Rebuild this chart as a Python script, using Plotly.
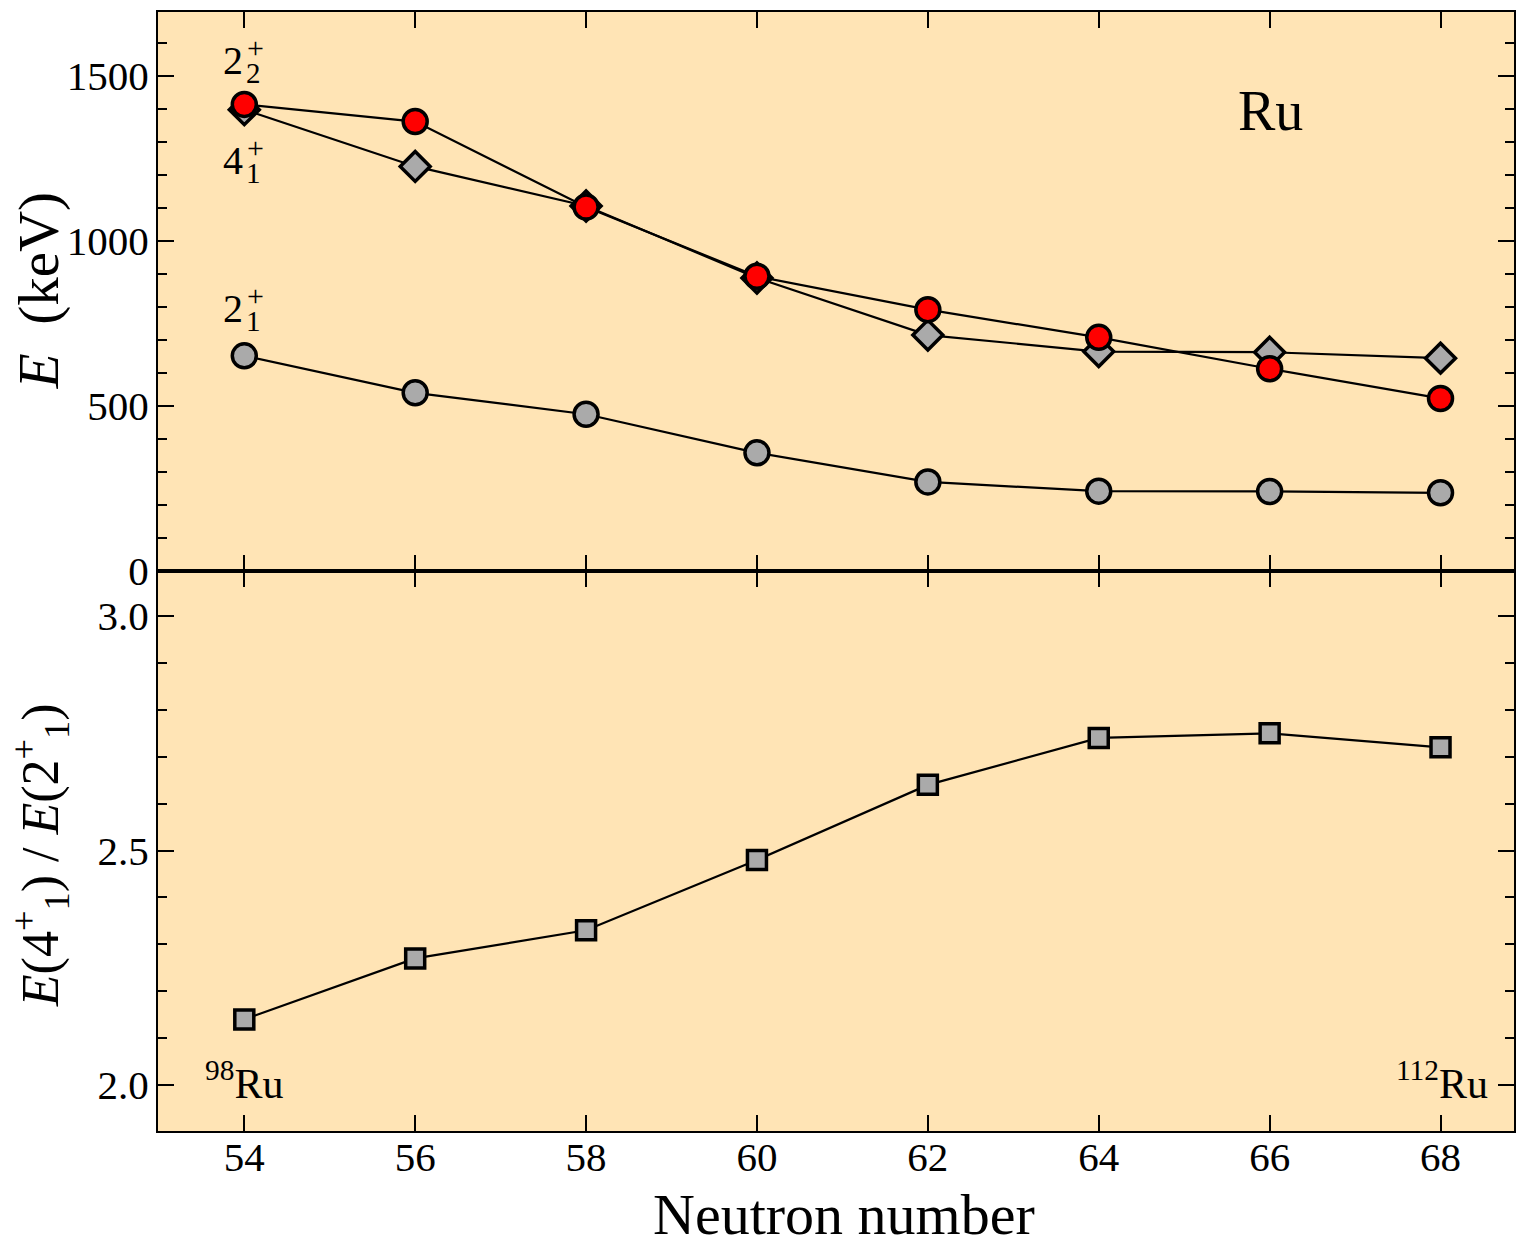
import plotly.graph_objects as go

# ---- data ----
neutron = [54, 56, 58, 60, 62, 64, 66, 68]
e_2plus1 = [652, 540, 475, 358, 270, 242, 241, 237]
e_4plus1 = [1398, 1226, 1106, 888, 715, 665, 663, 645]
e_2plus2 = [1414, 1362, 1103, 893, 792, 708, 613, 523]
ratio_r42 = [2.14, 2.27, 2.33, 2.48, 2.64, 2.74, 2.75, 2.72]

x_ticks = [54, 56, 58, 60, 62, 64, 66, 68]
top_ticks = [0, 500, 1000, 1500]
bot_ticks = [2.0, 2.5, 3.0]
bot_ticklabels = ["2.0", "2.5", "3.0"]

FONT = "Liberation Serif"
BG = "#FFE4B5"
GRAY = "#AAAAAA"

fig = go.Figure()

def add(x, y, symbol, color, size, xa, ya):
    fig.add_trace(go.Scatter(
        x=x, y=y, mode="lines+markers", xaxis=xa, yaxis=ya,
        line=dict(color="black", width=2.2),
        marker=dict(symbol=symbol, size=size, color=color,
                    line=dict(color="black", width=3.5)),
        showlegend=False, cliponaxis=False))

add(neutron, e_2plus1, "circle", GRAY, 24, "x", "y")
add(neutron, e_4plus1, "diamond", GRAY, 23, "x", "y")
add(neutron, e_2plus2, "circle", "red", 24, "x", "y")
add(neutron, ratio_r42, "square", GRAY, 19, "x2", "y2")

split = (1131 - 571) / 1119

common_x = dict(range=[52.99, 68.86], tickvals=x_ticks, ticks="inside",
                ticklen=16, tickwidth=2, tickcolor="black", mirror="ticks",
                showline=True, linecolor="black", linewidth=2,
                showgrid=False, zeroline=False, ticklabelstandoff=-11,
                tickfont=dict(family=FONT, size=41, color="black"))

fig.update_layout(
    width=1516, height=1242,
    margin=dict(l=158, r=0, t=12, b=111),
    paper_bgcolor="white", plot_bgcolor=BG,
    xaxis=dict(common_x, anchor="y", domain=[0, 1], showticklabels=False),
    xaxis2=dict(common_x, anchor="y2", domain=[0, 1], matches="x"),
    yaxis=dict(domain=[split, 1], anchor="x", range=[0, 1694],
               tickvals=top_ticks, ticks="inside", ticklen=16, tickwidth=2,
               tickcolor="black", mirror="ticks", showline=True,
               linecolor="black", linewidth=2, showgrid=False,
               zeroline=False, ticklabelstandoff=-1,
               minor=dict(ticks="inside", ticklen=9, dtick=100, tick0=0,
                          tickwidth=2, tickcolor="black", showgrid=False),
               tickfont=dict(family=FONT, size=41, color="black")),
    yaxis2=dict(domain=[0, split], anchor="x2", range=[1.902, 3.096],
                tickvals=bot_ticks, ticktext=bot_ticklabels, ticks="inside",
                ticklen=16, tickwidth=2, tickcolor="black", mirror="ticks",
                showline=True, linecolor="black", linewidth=2,
                showgrid=False, zeroline=False, ticklabelstandoff=-1,
                minor=dict(ticks="inside", ticklen=9, dtick=0.1, tick0=2.0,
                           tickwidth=2, tickcolor="black", showgrid=False),
                tickfont=dict(family=FONT, size=41, color="black")),
)

def topv(py):
    return (571 - py) / 0.33

def botv(py):
    return 2.0 + (1085 - py) / 469.0

def xv(px):
    return 54 + (px - 244) / 85.5

ann = []
def txt(text, px, py, size, xref="x", yref="y", conv=topv, **kw):
    ann.append(dict(text=text, x=xv(px), y=conv(py), xref=xref, yref=yref,
                    showarrow=False, xanchor="center", yanchor="middle",
                    font=dict(family=FONT, size=size, color="black"), **kw))

# level labels (base, subscript, superscript)
for base, sub, bx, by in [("2", "2", 233, 60), ("4", "1", 233, 160), ("2", "1", 233, 308)]:
    txt(base, bx, by, 40)
    txt(sub, bx + 20, by + 13, 29)
    txt("+", bx + 22, by - 13, 30)

txt("Ru", 1271, 111, 56)
txt("<sup>98</sup>Ru", 244, 1080, 42, xref="x2", yref="y2", conv=botv)
txt("<sup>112</sup>Ru", 1442, 1080, 42, xref="x2", yref="y2", conv=botv)

# axis titles
def paper(px, py):
    return (px - 158) / 1358.0, (1131 - py) / 1119.0

px_, py_ = paper(845, 1214)
ann.append(dict(text="Neutron number", x=px_, y=py_, xref="paper", yref="paper",
                showarrow=False, xanchor="center", yanchor="middle",
                font=dict(family=FONT, size=58, color="black")))
px_, py_ = paper(39, 291)
ann.append(dict(text="<i>E</i>  (keV)", x=px_, y=py_, xref="paper", yref="paper",
                showarrow=False, xanchor="center", yanchor="middle", textangle=-90,
                font=dict(family=FONT, size=57, color="black")))
px_, py_ = paper(40, 855)
ann.append(dict(text="<i>E</i>(4<sup>+</sup><sub>1</sub>) / <i>E</i>(2<sup>+</sup><sub>1</sub>)",
                x=px_, y=py_, xref="paper", yref="paper",
                showarrow=False, xanchor="center", yanchor="middle", textangle=-90,
                font=dict(family=FONT, size=52, color="black")))

fig.update_layout(annotations=ann)
fig.write_html("out.html", config={"displayModeBar": False},
               post_script="document.body.style.margin='0';document.body.style.overflow='hidden';")
